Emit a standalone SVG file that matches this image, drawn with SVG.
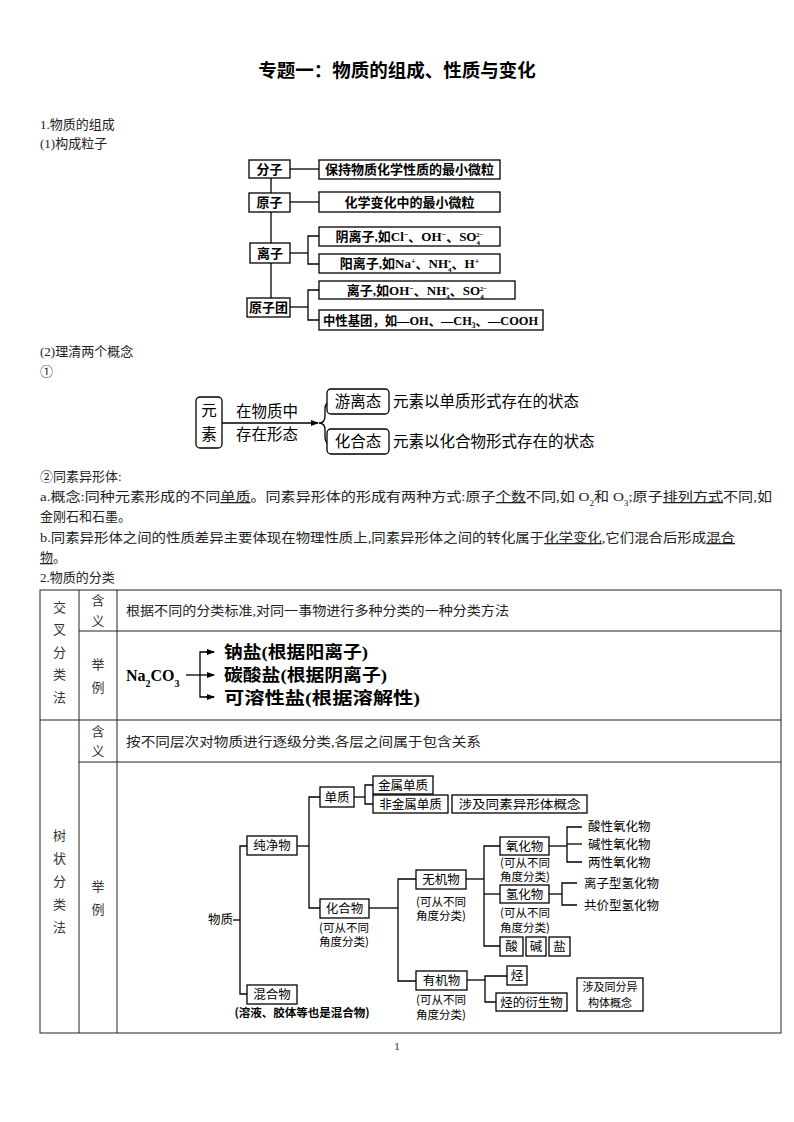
<svg xmlns="http://www.w3.org/2000/svg" width="794" height="1122" viewBox="0 0 794 1122">
<style>
.bx{fill:#fff;stroke:#000;stroke-width:1.3}
.ln{fill:none;stroke:#000;stroke-width:1.3}
.tl{fill:none;stroke:#222;stroke-width:1}
.body{font-family:"Liberation Serif","Noto Sans CJK SC",serif;font-size:13px;fill:#222}
.pb{font-family:"Liberation Serif","Noto Sans CJK SC",serif;font-size:13px;font-weight:bold;fill:#000;text-anchor:middle}
.pbs{font-family:"Liberation Serif","Noto Sans CJK SC","DejaVu Serif",serif;font-size:13px;font-weight:bold;fill:#000}
.el{font-family:"Noto Sans CJK SC",sans-serif;font-size:15.5px;fill:#000}
.tr{font-family:"Noto Sans CJK SC",sans-serif;font-size:12.5px;fill:#000}
.trm{font-family:"Noto Sans CJK SC",sans-serif;font-size:12.5px;fill:#000;text-anchor:middle}
.sm{font-family:"Noto Sans CJK SC",sans-serif;font-size:11.5px;fill:#000;text-anchor:middle}
.tc{font-family:"Noto Sans CJK SC",sans-serif;font-size:13px;fill:#333;text-anchor:middle}
.ex{font-family:"Liberation Serif","Noto Sans CJK SC",serif;font-size:17px;font-weight:bold;fill:#000}
.u{text-decoration:underline}
</style>
<defs>
<marker id="ah" markerWidth="8" markerHeight="8" refX="7" refY="4" orient="auto" markerUnits="userSpaceOnUse">
<path d="M0,1 L8,4 L0,7 Z" fill="#000"/>
</marker>
</defs>

<text x="397" y="77" text-anchor="middle" font-family="Noto Sans CJK SC, sans-serif" font-size="18.5" font-weight="bold">专题一：物质的组成、性质与变化</text>

<g id="headings">
<text class="body" x="40" y="129">1.物质的组成</text>
<text class="body" x="40" y="148">(1)构成粒子</text>
<text class="body" x="40" y="356">(2)理清两个概念</text>
<text class="body" x="40" y="376">①</text>
<text class="body" x="40" y="481">②同素异形体:</text>
<text class="body" x="40" y="501" textLength="732" lengthAdjust="spacingAndGlyphs">a.概念:同种元素形成的不同<tspan class="u">单质</tspan>。同素异形体的形成有两种方式:原子<tspan class="u">个数</tspan>不同,如 O<tspan font-size="8" baseline-shift="sub">2</tspan>和 O<tspan font-size="8" baseline-shift="sub">3</tspan>;原子<tspan class="u">排列方式</tspan>不同,如</text>
<text class="body" x="40" y="521">金刚石和石墨。</text>
<text class="body" x="40" y="542" textLength="695" lengthAdjust="spacingAndGlyphs">b.同素异形体之间的性质差异主要体现在物理性质上,同素异形体之间的转化属于<tspan class="u">化学变化</tspan>,它们混合后形成<tspan class="u">混合</tspan></text>
<text class="body" x="40" y="562"><tspan class="u">物</tspan>。</text>
<text class="body" x="40" y="582">2.物质的分类</text>
</g>

<g id="particles-connectors">
<line class="ln" x1="271" y1="178" x2="271" y2="298"/>
<line class="ln" x1="290" y1="169" x2="319" y2="169"/>
<line class="ln" x1="290" y1="202" x2="319" y2="202"/>
<polyline class="ln" points="290,253 308,253"/>
<polyline class="ln" points="319,236 308,236 308,264 319,264"/>
<polyline class="ln" points="290,307 308,307"/>
<polyline class="ln" points="319,290 308,290 308,320 319,320"/>
</g>
<g id="p-fenzi"><rect class="bx" x="249" y="160" width="41" height="18"/><text class="pb" x="269.5" y="174">分子</text></g>
<g id="p-def1"><rect class="bx" x="319" y="160" width="181" height="19"/><text class="pb" x="409.5" y="174">保持物质化学性质的最小微粒</text></g>
<g id="p-yuanzi"><rect class="bx" x="249" y="193" width="41" height="19"/><text class="pb" x="269.5" y="207">原子</text></g>
<g id="p-def2"><rect class="bx" x="319" y="192" width="181" height="20"/><text class="pb" x="409.5" y="207">化学变化中的最小微粒</text></g>
<g id="p-yin"><rect class="bx" x="319" y="227" width="181" height="19"/><text class="pb" x="409.5" y="241">阴离子,如Cl<tspan font-size="8" baseline-shift="super">−</tspan>、OH<tspan font-size="8" baseline-shift="super">−</tspan>、SO<tspan font-size="7" baseline-shift="sub">4</tspan><tspan font-size="7" dx="-4" baseline-shift="super">2−</tspan></text></g>
<g id="p-lizi"><rect class="bx" x="250" y="243" width="40" height="20"/><text class="pb" x="270" y="258">离子</text></g>
<g id="p-yang"><rect class="bx" x="319" y="254" width="181" height="19"/><text class="pb" x="409.5" y="268">阳离子,如Na<tspan font-size="8" baseline-shift="super">+</tspan>、NH<tspan font-size="7" baseline-shift="sub">4</tspan><tspan font-size="7" dx="-4" baseline-shift="super">+</tspan>、H<tspan font-size="8" baseline-shift="super">+</tspan></text></g>
<g id="p-group-ion"><rect class="bx" x="319" y="281" width="196" height="18"/><text class="pb" x="417" y="295">离子,如OH<tspan font-size="8" baseline-shift="super">−</tspan>、NH<tspan font-size="7" baseline-shift="sub">4</tspan><tspan font-size="7" dx="-4" baseline-shift="super">+</tspan>、SO<tspan font-size="7" baseline-shift="sub">4</tspan><tspan font-size="7" dx="-4" baseline-shift="super">2−</tspan></text></g>
<g id="p-yuanzituan"><rect class="bx" x="247" y="298" width="43" height="19"/><text class="pb" x="268.5" y="312">原子团</text></g>
<g id="p-neutral"><rect class="bx" x="319" y="310" width="224" height="20" stroke-width="2"/><text class="pbs" x="323" y="325" textLength="215" lengthAdjust="spacingAndGlyphs">中性基团，如—OH、—CH₃、—COOH</text></g>

<g id="element-connectors">
<line class="ln" x1="222" y1="423" x2="318" y2="423" marker-end="url(#ah)"/>
<path class="ln" d="M331,402 Q325,402 325,409 L325,416 Q325,423 319,423 Q325,423 325,430 L325,437 Q325,444 331,444"/>
</g>
<g id="e-yuansu"><rect class="bx" x="196" y="397" width="26" height="51" rx="4"/><text class="el" x="209" y="416" font-size="17" text-anchor="middle">元</text><text class="el" x="209" y="440" font-size="17" text-anchor="middle">素</text></g>
<g id="e-label"><text class="el" x="236" y="417">在物质中</text><text class="el" x="236" y="440">存在形态</text></g>
<g id="e-free"><rect class="bx" x="327" y="389" width="62" height="25" rx="4"/><text class="el" x="358" y="407" text-anchor="middle">游离态</text><text class="el" x="393" y="407">元素以单质形式存在的状态</text></g>
<g id="e-comb"><rect class="bx" x="327" y="429" width="62" height="25" rx="4"/><text class="el" x="358" y="447" text-anchor="middle">化合态</text><text class="el" x="393" y="447">元素以化合物形式存在的状态</text></g>

<g id="table">
<rect class="tl" x="40" y="590" width="741" height="443"/>
<line class="tl" x1="79" y1="631" x2="781" y2="631"/>
<line class="tl" x1="40" y1="720" x2="781" y2="720"/>
<line class="tl" x1="79" y1="762" x2="781" y2="762"/>
<line class="tl" x1="79" y1="590" x2="79" y2="1033"/>
<line class="tl" x1="117" y1="590" x2="117" y2="1033" stroke="#000" stroke-width="1.4"/>
<text class="tc" x="59.5" y="611.5">交</text><text class="tc" x="59.5" y="634">叉</text><text class="tc" x="59.5" y="656.5">分</text><text class="tc" x="59.5" y="679">类</text><text class="tc" x="59.5" y="701.5">法</text>
<text class="tc" x="98" y="605">含</text><text class="tc" x="98" y="625.5">义</text>
<text class="tc" x="98" y="668.5">举</text><text class="tc" x="98" y="691.5">例</text>
<text class="tc" x="98" y="735.5">含</text><text class="tc" x="98" y="756">义</text>
<text class="tc" x="59.5" y="840">树</text><text class="tc" x="59.5" y="863">状</text><text class="tc" x="59.5" y="886">分</text><text class="tc" x="59.5" y="909">类</text><text class="tc" x="59.5" y="932">法</text>
<text class="tc" x="98" y="891">举</text><text class="tc" x="98" y="914">例</text>
<text class="body" x="126" y="614.5" textLength="383" lengthAdjust="spacingAndGlyphs">根据不同的分类标准,对同一事物进行多种分类的一种分类方法</text>
<text class="body" x="126" y="746" textLength="355" lengthAdjust="spacingAndGlyphs">按不同层次对物质进行逐级分类,各层之间属于包含关系</text>
</g>

<g id="cross-connectors">
<line class="ln" x1="186" y1="675" x2="214" y2="675" marker-end="url(#ah)"/>
<polyline class="ln" points="214,652 200,652 200,697 214,697"/>
<line class="ln" x1="206" y1="652" x2="214" y2="652" marker-end="url(#ah)"/>
<line class="ln" x1="206" y1="697" x2="214" y2="697" marker-end="url(#ah)"/>
</g>
<g id="cross-na2co3"><text x="126" y="681" font-family="Liberation Serif, serif" font-size="16" font-weight="bold">Na<tspan font-size="10" baseline-shift="sub">2</tspan>CO<tspan font-size="10" baseline-shift="sub">3</tspan></text></g>
<g id="cross-1"><text class="ex" x="224" y="658" textLength="144" lengthAdjust="spacingAndGlyphs">钠盐(根据阳离子)</text></g>
<g id="cross-2"><text class="ex" x="224" y="681" textLength="163" lengthAdjust="spacingAndGlyphs">碳酸盐(根据阴离子)</text></g>
<g id="cross-3"><text class="ex" x="224" y="704" textLength="196" lengthAdjust="spacingAndGlyphs">可溶性盐(根据溶解性)</text></g>

<g id="tree-connectors">
<line class="ln" x1="233" y1="920" x2="240" y2="920"/>
<polyline class="ln" points="247,846 240,846 240,994 247,994"/>
<line class="ln" x1="297" y1="846" x2="309" y2="846"/>
<polyline class="ln" points="320,797 309,797 309,908 320,908"/>
<line class="ln" x1="354" y1="797" x2="365" y2="797"/>
<polyline class="ln" points="373,785 365,785 365,804 373,804"/>
<line class="ln" x1="369" y1="908" x2="398" y2="908"/>
<polyline class="ln" points="416,879 398,879 398,981 416,981"/>
<line class="ln" x1="466" y1="879" x2="484" y2="879"/>
<polyline class="ln" points="500,846 484,846 484,946 500,946"/>
<line class="ln" x1="484" y1="894" x2="500" y2="894"/>
<line class="ln" x1="549" y1="846" x2="567" y2="846"/>
<polyline class="ln" points="582,827 567,827 567,862 582,862"/>
<line class="ln" x1="567" y1="844" x2="582" y2="844"/>
<line class="ln" x1="549" y1="894" x2="562" y2="894"/>
<polyline class="ln" points="577,883 562,883 562,905 577,905"/>
<line class="ln" x1="467" y1="980" x2="485" y2="980"/>
<polyline class="ln" points="507,976 485,976 485,1002 496,1002"/>
</g>
<g id="t-wuzhi"><text class="tr" x="208" y="924">物质</text></g>
<g id="t-chunjing"><rect class="bx" x="247" y="836" width="50" height="19"/><text class="trm" x="272" y="850">纯净物</text></g>
<g id="t-hunhe"><rect class="bx" x="247" y="985" width="50" height="19"/><text class="trm" x="272" y="999">混合物</text><text class="sm" x="302" y="1017" font-weight="bold">(溶液、胶体等也是混合物)</text></g>
<g id="t-danzhi"><rect class="bx" x="320" y="787" width="34" height="20"/><text class="trm" x="337" y="801.5">单质</text></g>
<g id="t-jinshu"><rect class="bx" x="373" y="776" width="60" height="18"/><text class="trm" x="403" y="789.5">金属单质</text></g>
<g id="t-feijinshu"><rect class="bx" x="373" y="795" width="75" height="18"/><text class="trm" x="410.5" y="808.5">非金属单质</text></g>
<g id="t-tongsu"><rect class="bx" x="452" y="795" width="135" height="18"/><text class="trm" x="519.5" y="808.5" textLength="122" lengthAdjust="spacingAndGlyphs">涉及同素异形体概念</text></g>
<g id="t-huahe"><rect class="bx" x="320" y="899" width="49" height="19"/><text class="trm" x="344.5" y="913">化合物</text><text class="sm" x="344" y="932">(可从不同</text><text class="sm" x="344" y="946">角度分类)</text></g>
<g id="t-wuji"><rect class="bx" x="416" y="870" width="50" height="19"/><text class="trm" x="441" y="884">无机物</text><text class="sm" x="441" y="906">(可从不同</text><text class="sm" x="441" y="920">角度分类)</text></g>
<g id="t-yanghua"><rect class="bx" x="500" y="837" width="49" height="18"/><text class="trm" x="524.5" y="850.5">氧化物</text><text class="sm" x="525" y="867">(可从不同</text><text class="sm" x="525" y="881">角度分类)</text></g>
<g id="t-ox1"><text class="tr" x="588" y="831">酸性氧化物</text></g>
<g id="t-ox2"><text class="tr" x="588" y="848.5">碱性氧化物</text></g>
<g id="t-ox3"><text class="tr" x="588" y="866.5">两性氧化物</text></g>
<g id="t-qinghua"><rect class="bx" x="500" y="885" width="49" height="18"/><text class="trm" x="524.5" y="898.5">氢化物</text><text class="sm" x="525" y="917">(可从不同</text><text class="sm" x="525" y="932">角度分类)</text></g>
<g id="t-h1"><text class="tr" x="584" y="887.5">离子型氢化物</text></g>
<g id="t-h2"><text class="tr" x="584" y="909.5">共价型氢化物</text></g>
<g id="t-suan"><rect class="bx" x="500" y="937" width="23" height="19"/><text class="trm" x="511.5" y="951">酸</text></g>
<g id="t-jian"><rect class="bx" x="526" y="937" width="20" height="19"/><text class="trm" x="536" y="951">碱</text></g>
<g id="t-yan"><rect class="bx" x="549" y="937" width="21" height="19"/><text class="trm" x="559.5" y="951">盐</text></g>
<g id="t-youji"><rect class="bx" x="416" y="971" width="51" height="19"/><text class="trm" x="441.5" y="985">有机物</text><text class="sm" x="441" y="1004">(可从不同</text><text class="sm" x="441" y="1019">角度分类)</text></g>
<g id="t-ting"><rect class="bx" x="507" y="966" width="20" height="19"/><text class="trm" x="517" y="980">烃</text></g>
<g id="t-yansheng"><rect class="bx" x="496" y="993" width="71" height="18"/><text class="trm" x="531.5" y="1006.5">烃的衍生物</text></g>
<g id="t-tongfen"><rect class="bx" x="577" y="978" width="66" height="33"/><text class="trm" x="610" y="991" style="font-size:11px">涉及同分异</text><text class="trm" x="610" y="1007" style="font-size:11px">构体概念</text></g>

<text x="397" y="1050" text-anchor="middle" font-family="Liberation Serif, serif" font-size="11" fill="#222">1</text>
</svg>
